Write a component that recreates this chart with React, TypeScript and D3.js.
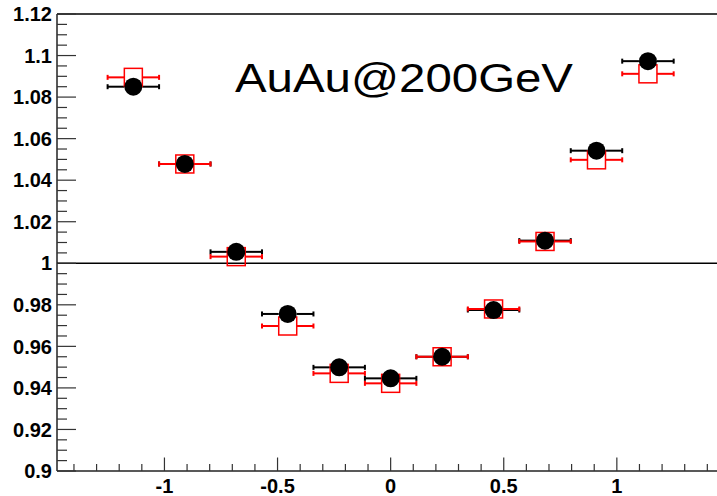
import React from "react";
import * as d3 from "d3";

const xValues = [-1.1375, -0.91, -0.6825, -0.455, -0.2275, 0, 0.2275, 0.455, 0.6825, 0.91, 1.1375];
const xHalfWidth = [0.11375, 0.11375, 0.11375, 0.11375, 0.11375, 0.11375, 0.11375, 0.11375, 0.11375, 0.11375, 0.11375];
const blackValues = [1.085, 1.0478, 1.0055, 0.9756, 0.9499, 0.9446, 0.955, 0.9775, 1.0109, 1.0542, 1.0973];
const redValues = [1.0895, 1.0478, 1.0032, 0.9698, 0.947, 0.9422, 0.955, 0.978, 1.0105, 1.0498, 1.0912];
const xMajorTicks = [-1, -0.5, 0, 0.5, 1];
const xTickLabels = ["-1", "-0.5", "0", "0.5", "1"];
const yMajorTicks = [0.9, 0.92, 0.94, 0.96, 0.98, 1, 1.02, 1.04, 1.06, 1.08, 1.1, 1.12];
const yTickLabels = ["0.9", "0.92", "0.94", "0.96", "0.98", "1", "1.02", "1.04", "1.06", "1.08", "1.1", "1.12"];
const title = "AuAu@200GeV";

const W = 717;
const H = 496;
const left = 57;
const top = 14;
const bottom = 471;
const pxPerUnit = 226.2;
const xDomain = [-1.475, 1.475];

export default function App() {
  const x = d3.scaleLinear().domain(xDomain).range([left, left + (xDomain[1] - xDomain[0]) * pxPerUnit]);
  const y = d3.scaleLinear().domain([0.9, 1.12]).range([bottom, top]);

  const xMinor = d3.range(-14, 15).map((i) => i / 10).filter((v) => Math.abs(v * 2 - Math.round(v * 2)) > 1e-6);
  const yMinor = d3.range(180, 225).map((i) => i / 200).filter((v) => Math.abs(v * 50 - Math.round(v * 50)) > 1e-6);

  const font = "'Liberation Sans', Arial, Helvetica, sans-serif";
  const ms = 9; // marker half size

  const errBars = (vals: number[], color: string, half: number) =>
    vals.map((v, i) => {
      const cx = x(xValues[i]);
      const cy = y(v);
      const xl = x(xValues[i] - xHalfWidth[i]);
      const xr = x(xValues[i] + xHalfWidth[i]);
      return (
        <g key={color + i} stroke={color} strokeWidth={2}>
          <line x1={xl} x2={cx - half} y1={cy} y2={cy} />
          <line x1={cx + half} x2={xr} y1={cy} y2={cy} />
          <line x1={xl} x2={xl} y1={cy - 2.5} y2={cy + 2.5} />
          <line x1={xr} x2={xr} y1={cy - 2.5} y2={cy + 2.5} />
        </g>
      );
    });

  return (
    <svg width={W} height={H} style={{ position: "absolute", left: 0, top: 0, background: "#fff" }}>
      <rect x={0} y={0} width={W} height={H} fill="#fff" />
      {/* frame */}
      <line x1={left} x2={W} y1={top} y2={top} stroke="#000" strokeWidth={1.3} />
      <line x1={left} x2={left} y1={top} y2={bottom} stroke="#222" strokeWidth={1.5} />
      <line x1={left} x2={W} y1={bottom} y2={bottom} stroke="#222" strokeWidth={1.5} />
      <line x1={left} x2={W} y1={y(1)} y2={y(1)} stroke="#000" strokeWidth={1.3} />

      {/* y ticks */}
      {yMajorTicks.map((v) => (
        <line key={"ym" + v} x1={left} x2={left + 19} y1={y(v)} y2={y(v)} stroke="#333" strokeWidth={1.2} />
      ))}
      {yMinor.map((v) => (
        <line key={"yn" + v} x1={left} x2={left + 10} y1={y(v)} y2={y(v)} stroke="#333" strokeWidth={1.2} />
      ))}
      {yMajorTicks.map((v, i) => (
        <text key={"yl" + v} x={52} y={y(v)} dy="0.36em" textAnchor="end" fontFamily={font} fontWeight="bold" fontSize={20} fill="#000">
          {yTickLabels[i]}
        </text>
      ))}

      {/* x ticks */}
      {xMajorTicks.map((v) => (
        <line key={"xm" + v} x1={x(v)} x2={x(v)} y1={bottom} y2={bottom - 13.5} stroke="#333" strokeWidth={1.2} />
      ))}
      {xMinor.map((v) => (
        <line key={"xn" + v} x1={x(v)} x2={x(v)} y1={bottom} y2={bottom - 7} stroke="#333" strokeWidth={1.2} />
      ))}
      {xMajorTicks.map((v, i) => (
        <text key={"xl" + v} x={x(v)} y={492.5} textAnchor="middle" fontFamily={font} fontWeight="bold" fontSize={20} fill="#000">
          {xTickLabels[i]}
        </text>
      ))}

      {/* title */}
      <text x={235} y={91.7} fontFamily={font} fontSize={41} textLength={338} lengthAdjust="spacingAndGlyphs" fill="#000">
        {title}
      </text>

      {/* error bars: black then red */}
      {errBars(blackValues, "#000", ms)}
      {errBars(redValues, "#ff0000", ms)}

      {/* red squares */}
      {redValues.map((v, i) => (
        <rect key={"rs" + i} x={x(xValues[i]) - ms} y={y(v) - ms} width={2 * ms} height={2 * ms} fill="none" stroke="#ff0000" strokeWidth={1.5} />
      ))}

      {/* black circles */}
      {blackValues.map((v, i) => (
        <circle key={"bc" + i} cx={x(xValues[i])} cy={y(v)} r={ms} fill="#000" />
      ))}
    </svg>
  );
}
